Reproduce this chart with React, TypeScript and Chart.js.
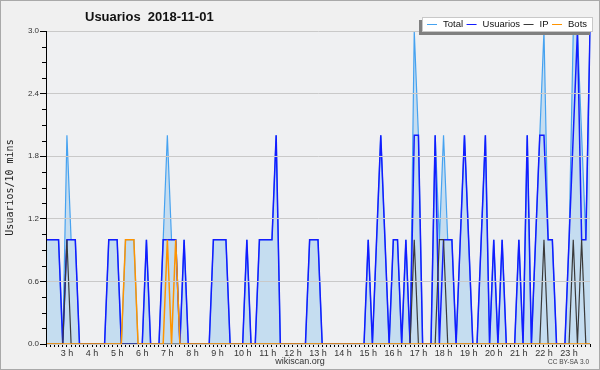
import React, { useEffect, useRef } from 'react';
import { Chart, registerables } from 'chart.js';

Chart.register(...registerables);

// 10-minute slots, first slot at 02:10
const startMinute = 130;
const slotMinutes = 10;
const hourTickLabels = ['3 h','4 h','5 h','6 h','7 h','8 h','9 h','10 h','11 h','12 h','13 h','14 h','15 h','16 h','17 h','18 h','19 h','20 h','21 h','22 h','23 h'];
const firstTickHour = 3;
const yTickLabels = ['0.0','0.6','1.2','1.8','2.4','3.0'];

const totalValues = [
  1,1,1,1,0,2,1,1,0,0,
  0,0,0,0,0,1,1,1,0,1,
  1,1,0,0,1,0,0,0,1,2,
  1,1,0,1,0,0,0,0,0,0,
  1,1,1,1,0,0,0,0,1,0,
  0,1,1,1,1,2,0,0,0,0,
  0,0,0,1,1,1,0,0,0,0,
  0,0,0,0,0,0,0,1,0,1,
  2,1,0,1,1,0,1,0,3,2,
  0,0,0,2,1,2,1,1,0,1,
  2,1,0,0,1,2,0,1,0,1,
  0,0,0,1,0,2,0,1,2,3,
  1,1,0,0,0,1,3,3,2,1,
  3
];
const usuariosValues = [
  1,1,1,1,0,1,1,1,0,0,
  0,0,0,0,0,1,1,1,0,0,
  0,0,0,0,1,0,0,0,1,1,
  1,1,0,1,0,0,0,0,0,0,
  1,1,1,1,0,0,0,0,1,0,
  0,1,1,1,1,2,0,0,0,0,
  0,0,0,1,1,1,0,0,0,0,
  0,0,0,0,0,0,0,1,0,1,
  2,1,0,1,1,0,1,0,2,2,
  0,0,0,2,0,1,1,1,0,1,
  2,1,0,0,1,2,0,1,0,1,
  0,0,0,1,0,2,0,1,2,2,
  1,1,0,0,0,1,2,3,1,1,
  3
];
const ipValues = [
  0,0,0,0,0,1,0,0,0,0,
  0,0,0,0,0,0,0,0,0,0,
  0,0,0,0,0,0,0,0,0,0,
  0,0,0,0,0,0,0,0,0,0,
  0,0,0,0,0,0,0,0,0,0,
  0,0,0,0,0,0,0,0,0,0,
  0,0,0,0,0,0,0,0,0,0,
  0,0,0,0,0,0,0,0,0,0,
  0,0,0,0,0,0,0,0,1,0,
  0,0,0,0,1,1,0,0,0,0,
  0,0,0,0,0,0,0,0,0,0,
  0,0,0,0,0,0,0,0,0,1,
  0,0,0,0,0,0,1,0,1,0,
  0
];
const botsValues = [
  0,0,0,0,0,0,0,0,0,0,
  0,0,0,0,0,0,0,0,0,1,
  1,1,0,0,0,0,0,0,0,1,
  0,1,0,0,0,0,0,0,0,0,
  0,0,0,0,0,0,0,0,0,0,
  0,0,0,0,0,0,0,0,0,0,
  0,0,0,0,0,0,0,0,0,0,
  0,0,0,0,0,0,0,0,0,0,
  0,0,0,0,0,0,0,0,0,0,
  0,0,0,0,0,0,0,0,0,0,
  0,0,0,0,0,0,0,0,0,0,
  0,0,0,0,0,0,0,0,0,0,
  0,0,0,0,0,0,0,0,0,0,
  0
];

const slotLabels = totalValues.map((_, i) => {
  const m = startMinute + i * slotMinutes;
  const hh = Math.floor(m / 60);
  const mm = m % 60;
  return String(hh).padStart(2, '0') + ':' + String(mm).padStart(2, '0');
});

const COLORS = {
  total: 'rgb(70,162,240)',
  totalFill: 'rgb(197,221,240)',
  usuarios: 'rgb(18,28,255)',
  ip: '#3a3a3a',
  bots: '#ff9400',
};

const legendItems = [
  { label: 'Total', color: COLORS.total },
  { label: 'Usuarios', color: COLORS.usuarios },
  { label: 'IP', color: COLORS.ip },
  { label: 'Bots', color: COLORS.bots },
];

const decorPlugin = {
  id: 'decor',
  beforeDraw(chart: any) {
    const { ctx, chartArea: a, width, height } = chart;
    ctx.save();
    ctx.fillStyle = '#f0f0f0';
    ctx.fillRect(0, 0, width, height);
    ctx.strokeStyle = '#a9a9a9';
    ctx.lineWidth = 1;
    ctx.strokeRect(0.5, 0.5, width - 1, height - 1);
    ctx.fillStyle = '#eff0f2';
    ctx.fillRect(a.left, a.top, a.right - a.left, a.bottom - a.top);
    ctx.restore();
  },
  afterDraw(chart: any) {
    const { ctx, chartArea: a } = chart;
    const y = chart.scales.y;
    ctx.save();
    // minor y ticks
    ctx.strokeStyle = '#000';
    ctx.lineWidth = 1;
    for (let k = 0; k <= 20; k++) {
      if (k % 4 === 0) continue;
      const py = Math.round(y.getPixelForValue(k * 0.15)) + 0.5;
      ctx.beginPath();
      ctx.moveTo(a.left - 4, py);
      ctx.lineTo(a.left, py);
      ctx.stroke();
    }
    // title
    ctx.fillStyle = '#111';
    ctx.font = 'bold 13px "Liberation Sans", Arial, sans-serif';
    ctx.textBaseline = 'alphabetic';
    ctx.textAlign = 'left';
    ctx.fillText('Usuarios  2018-11-01', 85, 21);
    // legend
    const bx = 422, by = 17, bw = 171, bh = 15;
    ctx.fillStyle = '#808080';
    ctx.fillRect(bx - 3, by + 3, bw, bh);
    ctx.fillStyle = '#ffffff';
    ctx.fillRect(bx, by, bw, bh);
    ctx.strokeStyle = '#c8c8c8';
    ctx.strokeRect(bx + 0.5, by + 0.5, bw - 1, bh - 1);
    ctx.font = '9.5px "Liberation Sans", Arial, sans-serif';
    ctx.textBaseline = 'middle';
    let x = 427;
    const ly = 24.5;
    legendItems.forEach((it) => {
      ctx.strokeStyle = it.color;
      ctx.lineWidth = 1;
      ctx.beginPath();
      ctx.moveTo(x, ly);
      ctx.lineTo(x + 10, ly);
      ctx.stroke();
      ctx.fillStyle = '#111';
      ctx.fillText(it.label, x + 16, ly);
      x = x + 16 + ctx.measureText(it.label).width + 3.5;
    });
    // footer
    ctx.fillStyle = '#333';
    ctx.font = '9px "Liberation Sans", Arial, sans-serif';
    ctx.textAlign = 'center';
    ctx.fillText('wikiscan.org', 300, 362);
    ctx.font = '6.5px "Liberation Sans", Arial, sans-serif';
    ctx.textAlign = 'right';
    ctx.fillStyle = '#444';
    ctx.fillText('CC BY-SA 3.0', 589, 362);
    ctx.restore();
  },
};

export default function App() {
  const ref = useRef<HTMLCanvasElement | null>(null);
  useEffect(() => {
    document.body.style.margin = '0';
    const canvas = ref.current;
    if (!canvas) return;
    const chart = new Chart(canvas, {
      type: 'line',
      data: {
        labels: slotLabels,
        datasets: [
          {
            label: 'Bots',
            data: botsValues,
            borderColor: COLORS.bots,
            borderWidth: 1.5,
            pointRadius: 0,
            tension: 0,
            fill: false,
            order: 1,
          },
          {
            label: 'IP',
            data: ipValues,
            borderColor: COLORS.ip,
            borderWidth: 1.2,
            pointRadius: 0,
            tension: 0,
            fill: false,
            order: 2,
          },
          {
            label: 'Usuarios',
            data: usuariosValues,
            borderColor: COLORS.usuarios,
            borderWidth: 1.5,
            pointRadius: 0,
            tension: 0,
            fill: false,
            order: 3,
          },
          {
            label: 'Total',
            data: totalValues,
            borderColor: COLORS.total,
            backgroundColor: COLORS.totalFill,
            borderWidth: 1.2,
            pointRadius: 0,
            tension: 0,
            fill: 'origin',
            order: 4,
          },
        ],
      },
      options: {
        animation: false,
        responsive: false,
        devicePixelRatio: 1,
        events: [],
        layout: { padding: { top: 31, right: 10, left: 0, bottom: 0 } },
        plugins: {
          legend: { display: false },
          title: { display: false },
          tooltip: { enabled: false },
        },
        scales: {
          x: {
            type: 'category',
            offset: false,
            afterFit(s: any) { s.height = 26; },
            grid: { drawOnChartArea: false, drawTicks: true, tickLength: 3, color: '#000', z: 1 },
            border: { color: '#000', width: 1, z: 1 },
            ticks: {
              autoSkip: false,
              maxRotation: 0,
              minRotation: 0,
              padding: 1,
              color: '#333',
              font: { family: '"Liberation Sans", Arial, sans-serif', size: 9 },
              callback(this: any, val: any) {
                const lbl: string = this.getLabelForValue(val);
                const [hh, mm] = lbl.split(':').map(Number);
                if (mm === 0 && hh >= firstTickHour) return hourTickLabels[hh - firstTickHour];
                return '';
              },
            },
          },
          y: {
            min: 0,
            max: 3,
            afterFit(s: any) { s.width = 46; },
            grid: { color: '#c9c9c9', tickColor: '#000', tickLength: 6, z: 1 },
            border: { color: '#000', width: 1, z: 1 },
            ticks: {
              stepSize: 0.6,
              padding: 1,
              color: '#333',
              font: { family: '"Liberation Sans", Arial, sans-serif', size: 8 },
              callback(val: any) {
                const k = Math.round(Number(val) / 0.6);
                return yTickLabels[k] ?? '';
              },
            },
            title: {
              display: true,
              text: 'Usuarios/10 mins',
              color: '#222',
              font: { family: '"DejaVu Sans Mono", monospace', size: 10 },
              padding: { top: 4, bottom: 0 },
            },
          },
        },
      },
      plugins: [decorPlugin],
    } as any);
    return () => chart.destroy();
  }, []);
  return (
    <div style={{ width: 600, height: 370 }}>
      <canvas ref={ref} width={600} height={370} style={{ display: 'block', width: 600, height: 370 }} />
    </div>
  );
}
